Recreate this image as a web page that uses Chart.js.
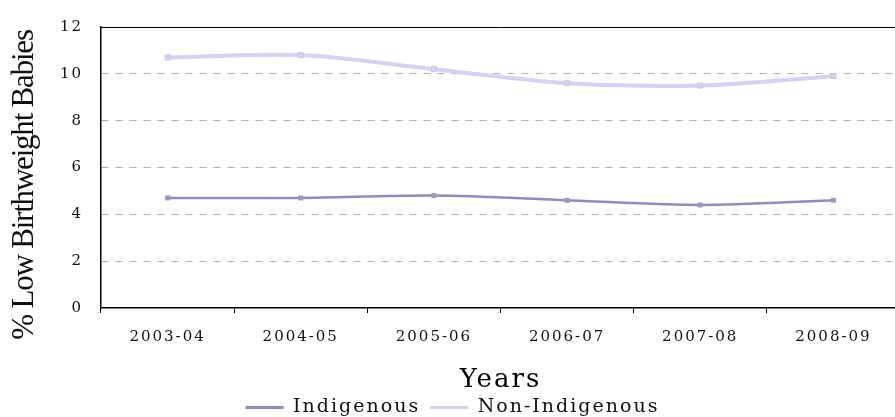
<!DOCTYPE html>
<html>
<head>
<meta charset="utf-8">
<script src="https://cdn.jsdelivr.net/npm/chart.js@4/dist/chart.umd.min.js"></script>
<style>
  html, body { margin: 0; padding: 0; background: #fff; overflow: hidden; }
  #wrap { width: 905px; height: 417px; }
</style>
</head>
<body>
<div id="wrap"><canvas id="c" width="905" height="417"></canvas></div>
<script>
// Low birthweight babies (%) by financial year
const years = ['2003-04', '2004-05', '2005-06', '2006-07', '2007-08', '2008-09'];
const indigenous = [4.7, 4.7, 4.8, 4.6, 4.4, 4.6];
const nonIndigenous = [10.7, 10.8, 10.2, 9.6, 9.5, 9.9];
const yTicks = [0, 2, 4, 6, 8, 10, 12];

const SERIF = '"DejaVu Serif", serif';

// Wide letter spacing for all canvas text
const spacing = {
  id: 'spacing',
  beforeUpdate(chart) { chart.ctx.letterSpacing = '2px'; },
  beforeDraw(chart) { chart.ctx.letterSpacing = '2px'; }
};

// Vertical axis caption and the top edge of the plot frame
const frame = {
  id: 'frame',
  afterDraw(chart) {
    const { ctx, chartArea } = chart;
    ctx.save();
    ctx.strokeStyle = '#000';
    ctx.lineWidth = 1;
    ctx.beginPath();
    ctx.moveTo(chartArea.left, chartArea.top + 0.5);
    ctx.lineTo(chartArea.right, chartArea.top + 0.5);
    ctx.stroke();

    ctx.letterSpacing = '-1.2px';
    ctx.translate(33, 185);
    ctx.rotate(-Math.PI / 2);
    ctx.fillStyle = '#111';
    ctx.font = '31px "Liberation Serif", serif';
    ctx.textAlign = 'center';
    ctx.textBaseline = 'alphabetic';
    ctx.fillText('% Low Birthweight Babies', 0, 0);
    ctx.restore();
  }
};

new Chart(document.getElementById('c'), {
  type: 'line',
  data: {
    labels: years,
    datasets: [
      {
        label: 'Indigenous',
        data: indigenous,
        borderColor: '#8b8bc8',
        backgroundColor: '#9999c2',
        borderWidth: 2.5,
        tension: 0.3,
        pointStyle: 'rect',
        pointRadius: 3.5,
        pointBackgroundColor: '#9999c2',
        pointBorderColor: '#9999c2',
        pointBorderWidth: 0
      },
      {
        label: 'Non-Indigenous',
        data: nonIndigenous,
        borderColor: '#d3d3f7',
        backgroundColor: '#d3d3f7',
        borderWidth: 4,
        tension: 0.3,
        pointStyle: 'rect',
        pointRadius: 3.5,
        pointBackgroundColor: '#d3d3f7',
        pointBorderColor: '#c4c4ec',
        pointBorderWidth: 1
      }
    ]
  },
  options: {
    responsive: false,
    animation: false,
    layout: { padding: { top: 19, left: 0, right: 0, bottom: -10 } },
    plugins: {
      legend: {
        position: 'bottom',
        labels: {
          font: { family: SERIF, size: 19 },
          color: '#111',
          boxWidth: 38,
          boxHeight: 3,
          padding: 10,
          generateLabels(chart) {
            return chart.data.datasets.map((ds, i) => ({
              text: ds.label,
              fillStyle: ds.borderColor,
              strokeStyle: ds.borderColor,
              lineWidth: 0,
              hidden: false,
              datasetIndex: i,
              fontColor: '#111'
            }));
          }
        }
      },
      tooltip: { enabled: false }
    },
    scales: {
      x: {
        offset: true,
        grid: {
          offset: true,
          drawOnChartArea: false,
          drawTicks: true,
          tickLength: 5,
          tickColor: '#000'
        },
        border: { color: '#000', width: 1.5 },
        ticks: {
          font: { family: SERIF, size: 15 },
          color: '#111',
          padding: 15,
          maxRotation: 0
        },
        title: {
          display: true,
          text: 'Years',
          font: { family: SERIF, size: 26 },
          color: '#000',
          padding: { top: 4, bottom: -8 }
        },
        afterFit(scale) { scale.height = 80; }
      },
      y: {
        min: 0,
        max: 12,
        afterBuildTicks(scale) { scale.ticks = yTicks.map(v => ({ value: v })); },
        grid: {
          drawTicks: false,
          color: (ctx) => (ctx.tick.value === 0 || ctx.tick.value === 12) ? 'rgba(0,0,0,0)' : '#b0b0b0',
          lineWidth: 1
        },
        border: { color: '#000', width: 1.5, dash: [7, 7] },
        ticks: {
          font: { family: SERIF, size: 15 },
          color: '#111',
          padding: 18
        },
        afterFit(scale) { scale.width = 101; }
      }
    }
  },
  plugins: [spacing, frame]
});
</script>
</body>
</html>
